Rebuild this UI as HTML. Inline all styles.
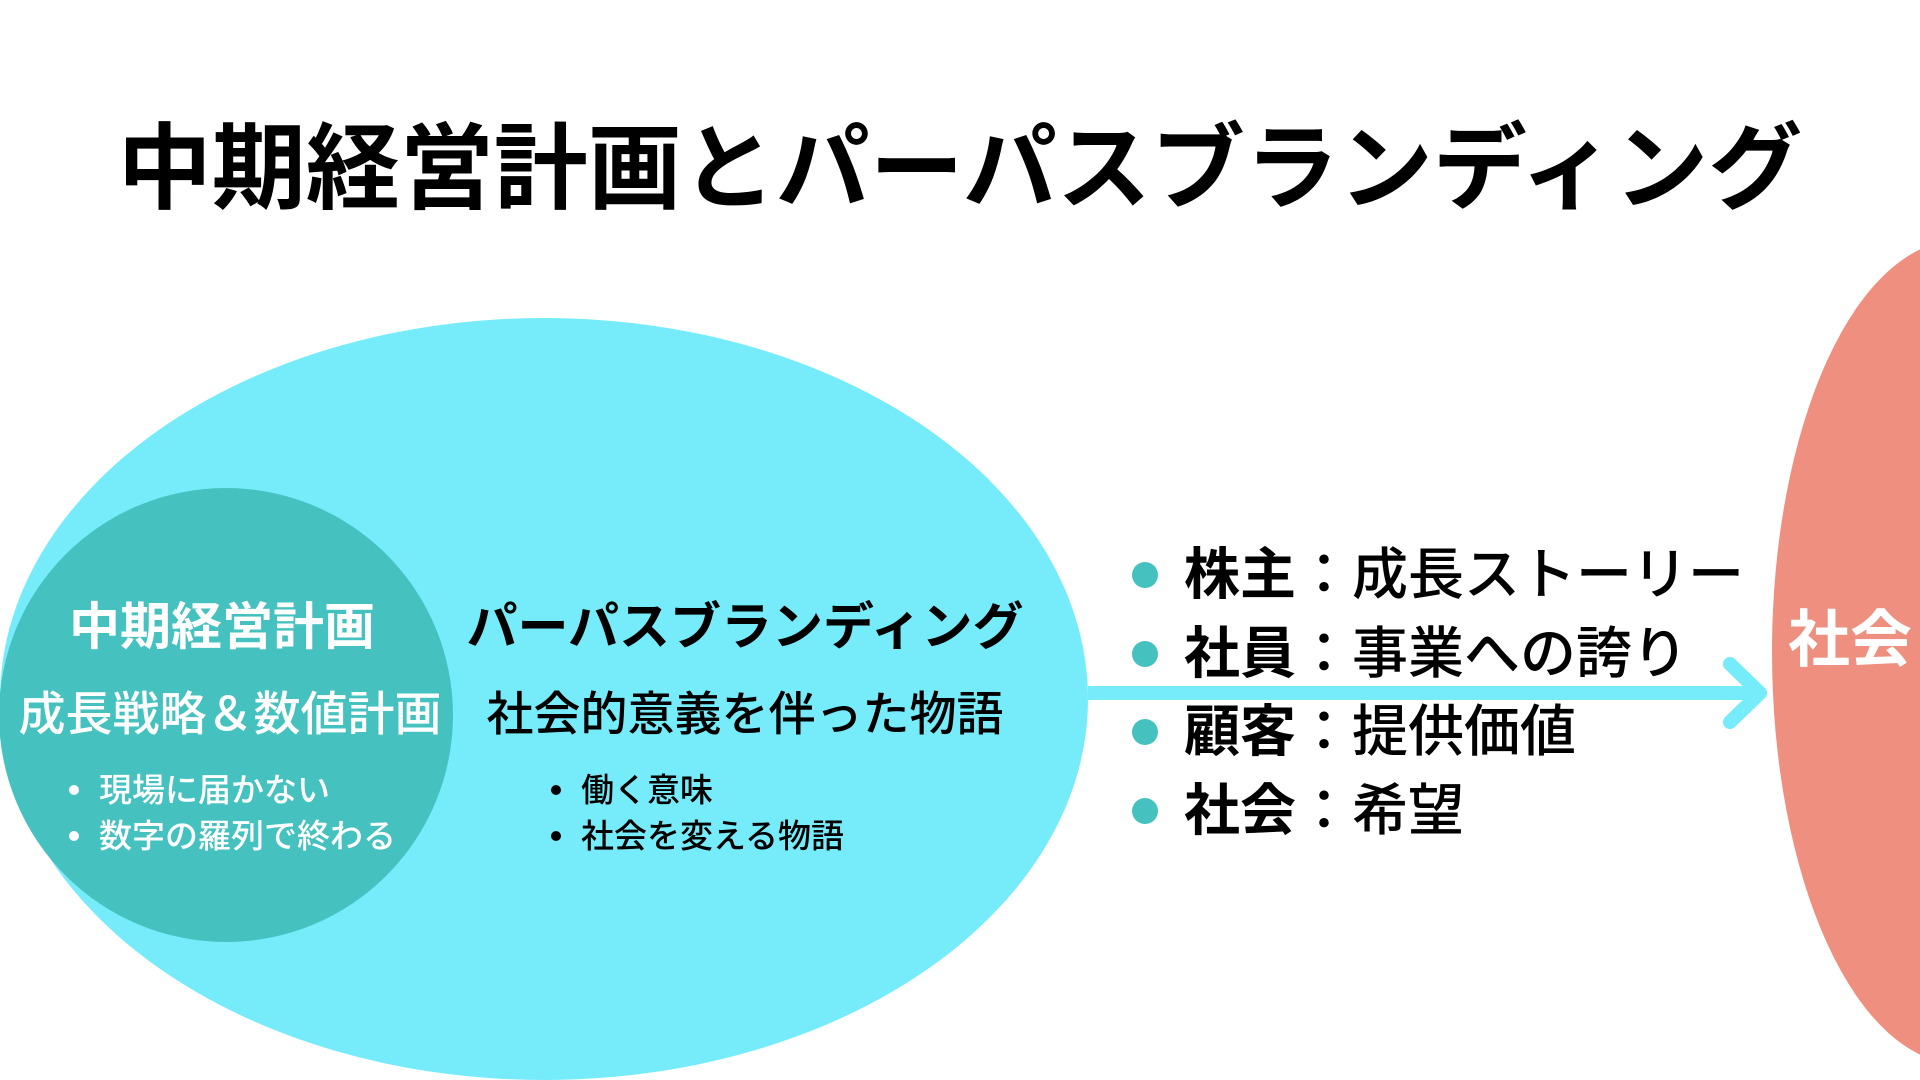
<!DOCTYPE html>
<html><head><meta charset="utf-8"><style>
body{margin:0;width:1920px;height:1080px;overflow:hidden;background:#fff;position:relative;font-family:"Liberation Sans","Noto Sans CJK JP",sans-serif}
.a{position:absolute;white-space:nowrap;line-height:1}
.c{transform:translate(-50%,-50%)}
.m{transform:translateY(-50%)}
</style></head><body>
<svg width="1920" height="1080" style="position:absolute;left:0;top:0">
<ellipse cx="544" cy="699" rx="544" ry="381" fill="#76ecfb"/>
<circle cx="226" cy="715" r="227" fill="#45c2c0"/>
<ellipse cx="1960" cy="652" rx="188" ry="412" fill="#ef8f7f"/>
<line x1="1088" y1="693" x2="1755" y2="693" stroke="#76ecfb" stroke-width="14"/>
<polyline points="1730,664 1760,693 1730,722" fill="none" stroke="#76ecfb" stroke-width="14" stroke-linecap="round" stroke-linejoin="round"/>
<circle cx="1145" cy="575" r="13" fill="#45c2c0"/>
<circle cx="1145" cy="654" r="13" fill="#45c2c0"/>
<circle cx="1145" cy="732" r="13" fill="#45c2c0"/>
<circle cx="1145" cy="811" r="13" fill="#45c2c0"/>
<circle cx="74" cy="790" r="5" fill="#fff"/>
<circle cx="74" cy="836" r="5" fill="#fff"/>
<circle cx="556" cy="790" r="5" fill="#000"/>
<circle cx="556" cy="836" r="5" fill="#000"/>
</svg>
<div class="a c" style="left:960px;top:169px;font-size:94px;font-weight:bold">中期経営計画とパーパスブランディング</div>
<div class="a c" style="left:222px;top:627px;font-size:51px;font-weight:bold;color:#fff">中期経営計画</div>
<div class="a c" style="left:230px;top:714px;font-size:47px;font-weight:500;color:#fff">成長戦略＆数値計画</div>
<div class="a m" style="left:99px;top:790px;font-size:33px;font-weight:500;color:#fff">現場に届かない</div>
<div class="a m" style="left:99px;top:836px;font-size:33px;font-weight:500;color:#fff">数字の羅列で終わる</div>
<div class="a c" style="left:745px;top:627px;font-size:51px;font-weight:bold">パーパスブランディング</div>
<div class="a c" style="left:745px;top:714px;font-size:47px;font-weight:500">社会的意義を伴った物語</div>
<div class="a m" style="left:581px;top:790px;font-size:33px;font-weight:500">働く意味</div>
<div class="a m" style="left:581px;top:836px;font-size:33px;font-weight:500">社会を変える物語</div>
<div class="a m" style="left:1184px;top:575px;font-size:56px;font-weight:500"><b>株主</b>：成長ストーリー</div>
<div class="a m" style="left:1184px;top:654px;font-size:56px;font-weight:500"><b>社員</b>：事業への誇り</div>
<div class="a m" style="left:1184px;top:732px;font-size:56px;font-weight:500"><b>顧客</b>：提供価値</div>
<div class="a m" style="left:1184px;top:811px;font-size:56px;font-weight:500"><b>社会</b>：希望</div>
<div class="a m" style="left:1788px;top:641px;font-size:62px;font-weight:bold;color:#fff">社会</div>
</body></html>
